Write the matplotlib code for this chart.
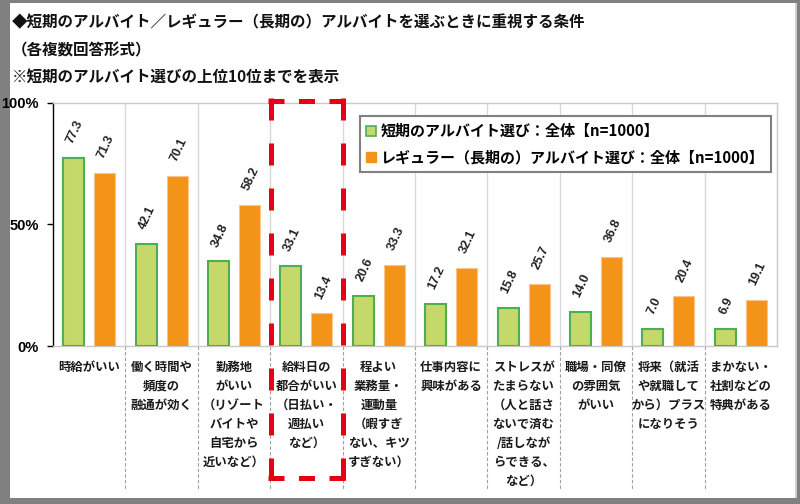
import matplotlib
matplotlib.use("Agg")
import matplotlib.pyplot as plt
from matplotlib.lines import Line2D
from matplotlib.patches import Rectangle
import numpy as np

plt.rcParams['font.family'] = ['Noto Sans CJK JP', 'DejaVu Sans']
plt.rcParams['lines.scale_dashes'] = False

title_lines = ["◆短期のアルバイト／レギュラー（長期の）アルバイトを選ぶときに重視する条件",
               "（各複数回答形式）",
               "※短期のアルバイト選びの上位10位までを表示"]
categories = ["時給がいい",
              "働く時間や\n頻度の\n融通が効く",
              "勤務地\nがいい\n（リゾート\nバイトや\n自宅から\n近いなど）",
              "給料日の\n都合がいい\n（日払い・\n週払い\nなど）",
              "程よい\n業務量・\n運動量\n（暇すぎ\nない、キツ\nすぎない）",
              "仕事内容に\n興味がある",
              "ストレスが\nたまらない\n（人と話さ\nないで済む\n/話しなが\nらできる、\nなど）",
              "職場・同僚\nの雰囲気\nがいい",
              "将来（就活\nや就職して\nから）プラス\nになりそう",
              "まかない・\n社割などの\n特典がある"]
short_term = [77.3, 42.1, 34.8, 33.1, 20.6, 17.2, 15.8, 14.0, 7.0, 6.9]
regular = [71.3, 70.1, 58.2, 13.4, 33.3, 32.1, 25.7, 36.8, 20.4, 19.1]
series_names = ["短期のアルバイト選び：全体【n=1000】",
                "レギュラー（長期の）アルバイト選び：全体【n=1000】"]
yticks = [0, 50, 100]
ytick_labels = ["0%", "50%", "100%"]

W, H = 800, 504
fig = plt.figure(figsize=(W / 100, H / 100), dpi=100, facecolor='#808080')

def fx(px):
    return px / W

def fy(py):
    return 1 - py / H

# white panel
fig.add_artist(Rectangle((fx(795), fy(498)), fx(2), (498 - 3) / H, transform=fig.transFigure,
                         facecolor='#d0d0d0', edgecolor='none', zorder=0))
fig.add_artist(Rectangle((fx(10), fy(498)), (795 - 10) / W, (498 - 3) / H, transform=fig.transFigure,
                         facecolor='white', edgecolor='none', zorder=0))

ax_l, ax_r, ax_t, ax_b = 53, 777, 103, 346
ax = fig.add_axes([fx(ax_l), fy(ax_b), (ax_r - ax_l) / W, (ax_b - ax_t) / H])
ax.set_facecolor('none')

green_fill = '#c5d96b'
green_edge = '#4cb050'
orange_fill = '#f39419'
orange_edge = '#f7c58a'

n = len(categories)
x = np.arange(n)
bw = 0.29
off = 0.215
ax.bar(x - off, short_term, bw, color=green_fill, edgecolor=green_edge, linewidth=1.5, zorder=3)
ax.bar(x + off, regular, bw, color=orange_fill, edgecolor=orange_edge, linewidth=0.8, zorder=3)

for xi, v in zip(x, short_term):
    ax.annotate(f"{v:.1f}", (xi - off, v), xytext=(1, 9), textcoords='offset points',
                ha='center', va='bottom', rotation=65, fontsize=9, fontfamily='Liberation Sans',
                fontweight='bold', color='#222222', zorder=4)
for xi, v in zip(x, regular):
    ax.annotate(f"{v:.1f}", (xi + off, v), xytext=(1, 9), textcoords='offset points',
                ha='center', va='bottom', rotation=65, fontsize=9, fontfamily='Liberation Sans',
                fontweight='bold', color='#222222', zorder=4)

ax.set_xlim(-0.5, n - 0.5)
ax.set_ylim(0, 100)
ax.set_yticks(yticks)
ax.set_yticklabels(ytick_labels, fontfamily='Liberation Sans', fontsize=10.5, fontweight='bold')
ax.set_xticks([])
ax.tick_params(axis='y', direction='out', length=4, width=1, color='black', pad=6)

for s in ['top', 'right', 'bottom']:
    ax.spines[s].set_color('#c8c8c8')
    ax.spines[s].set_linewidth(1)
ax.spines['left'].set_color('black')
ax.spines['left'].set_linewidth(1)

# vertical separators
below = (ax_b - 490) / (ax_b - ax_t)
for k in range(1, n):
    xb = k - 0.5
    ax.plot([xb, xb], [0, 1], transform=ax.get_xaxis_transform(), color='#d9d9d9', lw=1, zorder=1)
    ax.plot([xb, xb], [0, below], transform=ax.get_xaxis_transform(), color='#a0a0a0', lw=0.8,
            linestyle=(0, (2.5, 1.5)), clip_on=False, zorder=1)

# category labels
ylab = (ax_b - 361) / (ax_b - ax_t)
for xi, lab in zip(x, categories):
    ax.text(xi, ylab, lab, transform=ax.get_xaxis_transform(), ha='center', va='top',
            fontsize=8.9, fontweight='bold', linespacing=1.6, color='#1a1a1a')

# legend
handles = [Line2D([], [], linestyle='none', marker='s', markersize=6.5, markerfacecolor=green_fill,
                  markeredgecolor=green_edge, markeredgewidth=1.2),
           Line2D([], [], linestyle='none', marker='s', markersize=6.5, markerfacecolor=orange_fill,
                  markeredgecolor=orange_fill)]
leg = ax.legend(handles, series_names, loc='upper left', bbox_to_anchor=(fx(360), fy(116)),
                bbox_transform=fig.transFigure, frameon=True, fancybox=False, framealpha=1,
                edgecolor='#808080', handlelength=0.6, handletextpad=0.3, labelspacing=0.7,
                borderpad=0.45, borderaxespad=0,
                prop={'family': ['Noto Sans CJK JP', 'DejaVu Sans'], 'weight': 'bold', 'size': 10.8})
leg.get_frame().set_linewidth(1.5)
leg.set_zorder(5)

# title
for i, (t, yy) in enumerate(zip(title_lines, [22, 50, 77])):
    fig.text(fx(12), fy(yy), t, ha='left', va='center', fontsize=11.2, fontweight='bold', color='#111111')

# red dashed highlight box
red = '#e60012'
lw_px = 5
lw = lw_px * 0.72
bx0, bx1, by0, by1 = 268, 345, 98, 480
h = lw_px / 2
def pline(xs, ys, dash):
    fig.add_artist(Line2D([fx(v) for v in xs], [fy(v) for v in ys], transform=fig.transFigure,
                          color=red, lw=lw, linestyle=(0, dash), solid_capstyle='butt',
                          dash_capstyle='butt', zorder=6))
hd = (16 * 0.72, 14.5 * 0.72)
vd = (22 * 0.72, 23 * 0.72)
pline([bx0, bx1], [by0 + h, by0 + h], hd)
pline([bx0, bx1], [by1 - h, by1 - h], hd)
pline([bx0 + h, bx0 + h], [by0, by1], vd)
pline([bx1 - h, bx1 - h], [by0, by1], vd)

fig.savefig("out.png", dpi=100, facecolor=fig.get_facecolor())
